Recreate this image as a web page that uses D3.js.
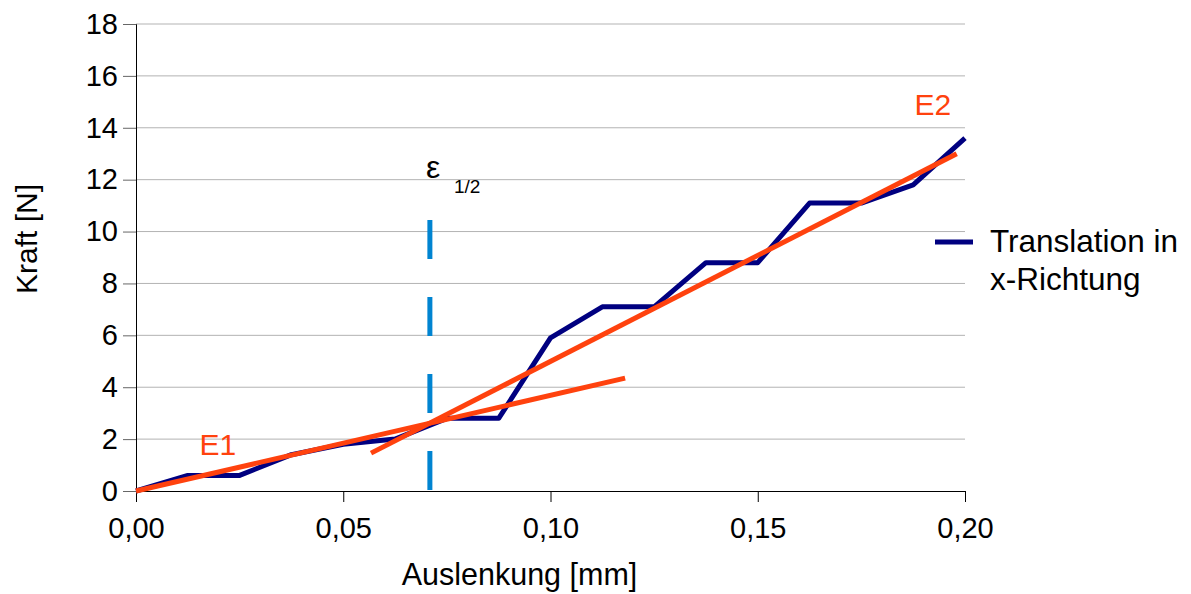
<!DOCTYPE html>
<html>
  <head>
    <meta charset="utf-8" />
    <script src="https://d3js.org/d3.v7.min.js"></script>
    <style>
      body { margin: 0; background: #fff; }
      text { font-family: "Liberation Sans", Arial, sans-serif; }
    </style>
  </head>
  <body>
    <div id="my_dataviz"></div>
    <script>
      // data
      var auslenkung = [0, 0.0125, 0.025, 0.0375, 0.05, 0.0625, 0.075, 0.0875, 0.1, 0.1125, 0.125, 0.1375, 0.15, 0.1625, 0.175, 0.1875, 0.2];
      var kraft = [0, 0.6, 0.6, 1.4, 1.8, 2.0, 2.8, 2.8, 5.9, 7.1, 7.1, 8.8, 8.8, 11.1, 11.1, 11.8, 13.6];
      var e1 = [[0, 0], [0.118, 4.35]];
      var e2 = [[0.0567, 1.46], [0.198, 13.0]];
      var epsX = 0.0709;
      var epsRange = [0, 10.5];
      var xTicks = [0, 0.05, 0.1, 0.15, 0.2];
      var yTicks = [0, 2, 4, 6, 8, 10, 12, 14, 16, 18];

      var margin = { top: 24, right: 226, bottom: 103, left: 136 },
        width = 1191 - margin.left - margin.right,
        height = 594 - margin.top - margin.bottom;

      var svg = d3
        .select("#my_dataviz")
        .append("svg")
        .attr("width", 1191)
        .attr("height", 594)
        .append("g")
        .attr("transform", "translate(" + margin.left + "," + margin.top + ")");

      var x = d3.scaleLinear().domain([0, 0.2]).range([0, width]);
      var y = d3.scaleLinear().domain([0, 18]).range([height, 0]);

      // grid
      svg
        .append("g")
        .selectAll("line")
        .data(yTicks.slice(1))
        .enter()
        .append("line")
        .attr("x1", 0)
        .attr("x2", width)
        .attr("y1", function (d) { return y(d); })
        .attr("y2", function (d) { return y(d); })
        .style("stroke", "#b3b3b3")
        .style("stroke-width", 1);

      // axes
      var fmt = function (d) { return d3.format(".2f")(d).replace(".", ","); };
      var xAxis = svg
        .append("g")
        .attr("transform", "translate(0," + height + ")")
        .call(d3.axisBottom(x).tickValues(xTicks).tickFormat(fmt).tickSize(11).tickPadding(15));
      var yAxis = svg
        .append("g")
        .call(d3.axisLeft(y).tickValues(yTicks).tickSize(13).tickPadding(5));

      [xAxis, yAxis].forEach(function (a) {
        a.selectAll("text").style("font-size", "29px").style("fill", "#000");
        a.select(".domain").style("stroke", "#000");
        a.selectAll(".tick line").style("stroke", "#000");
      });
      yAxis.selectAll(".tick line").style("stroke", "#666");

      // axis titles
      svg
        .append("text")
        .attr("x", 519.5 - margin.left)
        .attr("y", 585 - margin.top)
        .attr("text-anchor", "middle")
        .style("font-size", "30.5px")
        .text("Auslenkung [mm]");
      svg
        .append("text")
        .attr("transform", "translate(" + (37 - margin.left) + "," + (239 - margin.top) + ") rotate(-90)")
        .attr("text-anchor", "middle")
        .style("font-size", "30px")
        .text("Kraft [N]");

      // data line
      var line = d3
        .line()
        .x(function (d) { return x(d[0]); })
        .y(function (d) { return y(d[1]); });

      svg
        .append("path")
        .datum(auslenkung.map(function (d, i) { return [d, kraft[i]]; }))
        .attr("d", line)
        .style("fill", "none")
        .style("stroke", "#000080")
        .style("stroke-width", 5)
        .style("stroke-linejoin", "round");

      // dashed epsilon line
      svg
        .append("line")
        .attr("x1", x(epsX))
        .attr("x2", x(epsX))
        .attr("y1", y(epsRange[0]))
        .attr("y2", y(epsRange[1]))
        .style("stroke", "#0084d1")
        .style("stroke-width", 5)
        .style("stroke-dasharray", "39,38")
        .style("stroke-dashoffset", "-1");

      // fit lines
      [e1, e2].forEach(function (d) {
        svg
          .append("path")
          .datum(d)
          .attr("d", line)
          .style("fill", "none")
          .style("stroke", "#ff420e")
          .style("stroke-width", 5);
      });

      // labels
      svg.append("text").attr("x", 199.5 - margin.left).attr("y", 455 - margin.top).style("font-size", "30px").style("fill", "#ff420e").text("E1");
      svg.append("text").attr("x", 914.5 - margin.left).attr("y", 115 - margin.top).style("font-size", "30px").style("fill", "#ff420e").text("E2");
      svg.append("text").attr("x", 426 - margin.left).attr("y", 178 - margin.top).style("font-size", "32px").text("ε");
      svg.append("text").attr("x", 454 - margin.left).attr("y", 193 - margin.top).style("font-size", "19px").text("1/2");

      // legend
      var lg = svg.append("g").attr("transform", "translate(" + (935 - margin.left) + "," + (242 - margin.top) + ")");
      lg.append("line").attr("x1", 0).attr("x2", 38).style("stroke", "#000080").style("stroke-width", 5);
      lg.append("text").attr("x", 55).attr("y", 10).style("font-size", "31.5px").text("Translation in");
      lg.append("text").attr("x", 55).attr("y", 48).style("font-size", "31.5px").text("x-Richtung");
    </script>
  </body>
</html>
